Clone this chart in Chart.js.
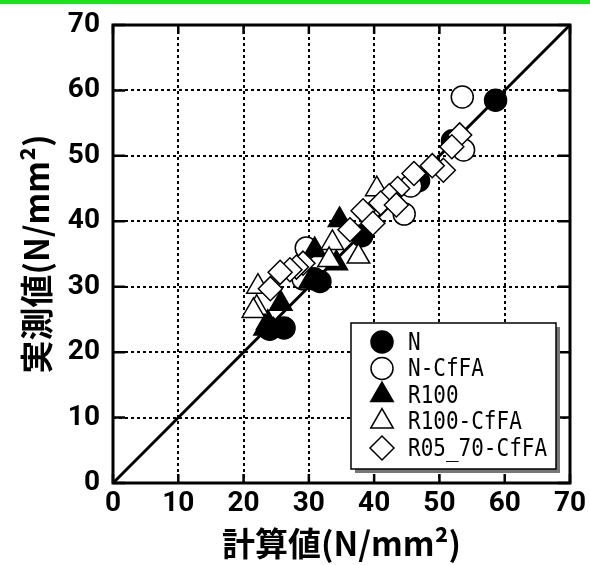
<!DOCTYPE html>
<html lang="ja">
<head>
<meta charset="utf-8">
<script src="https://cdn.jsdelivr.net/npm/chart.js@4.4.1/dist/chart.umd.min.js"></script>
<style>
  body { margin: 0; background: #fff; }
  #caja { position: relative; width: 590px; height: 565px; }
  #linea { position: absolute; left: 0; top: 0; width: 590px; height: 4px; background: #1fe01f; }
</style>
</head>
<body>
<div id="caja">
  <canvas id="grafica" width="590" height="565"></canvas>
  <div id="linea"></div>
</div>
<script>
//DATOS
const nombres = ['N', 'N-CfFA', 'R100', 'R100-CfFA', 'R05_70-CfFA'];
const xN = [58.6, 52.0, 46.8, 38.1, 31.7, 30.8, 26.2, 24.0];
const yN = [58.5, 52.3, 46.2, 37.8, 30.8, 31.2, 23.7, 23.5];
const xNCf = [53.5, 53.7, 44.6, 45.6, 29.6, 29.1];
const yNCf = [59.0, 50.9, 41.1, 45.4, 35.9, 31.2];
const xR100 = [34.7, 30.9, 34.2, 25.7, 23.3, 24.6, 30.2, 23.7];
const yR100 = [40.2, 35.6, 33.6, 27.4, 23.6, 23.3, 30.8, 24.5];
const xR100Cf = [40.4, 37.6, 33.6, 33.1, 22.2, 22.0, 21.5];
const yR100Cf = [44.9, 34.6, 36.7, 34.1, 30.0, 26.8, 26.3];
const xR05 = [53.1, 51.9, 50.6, 48.9, 46.1, 43.6, 42.3, 41.0, 43.4, 38.3, 39.8, 36.3, 29.1, 28.1, 27.1, 25.6, 24.1];
const yR05 = [53.2, 51.4, 47.8, 48.5, 47.3, 45.0, 43.9, 42.8, 42.5, 41.6, 39.7, 38.7, 33.6, 33.0, 32.6, 32.2, 29.7];
const lineaX = [0, 70];
const lineaY = [0, 70];
const marcas = [0, 10, 20, 30, 40, 50, 60, 70];
const tituloX = '計算値(N/mm²)';
const tituloY = '実測値(N/mm²)';
//DATOS

const puntos = (xs, ys) => xs.map((v, i) => ({x: v, y: ys[i]}));

function serie(i, xs, ys, estilo, relleno, radio, orden) {
    return {
        label: nombres[i],
        data: puntos(xs, ys),
        pointStyle: estilo,
        pointRadius: radio,
        pointBackgroundColor: relleno,
        pointBorderColor: '#000',
        pointBorderWidth: 1.5,
        showLine: false,
        order: orden
    };
}

const datasets = [
    serie(4, xR05, yR05, 'rectRot', '#fff', 12, 1),
    serie(3, xR100Cf, yR100Cf, 'triangle', '#fff', 13, 2),
    serie(2, xR100, yR100, 'triangle', '#000', 13, 3),
    serie(1, xNCf, yNCf, 'circle', '#fff', 11, 4),
    serie(0, xN, yN, 'circle', '#000', 11, 5),
    {
        label: 'linea',
        data: puntos(lineaX, lineaY),
        showLine: true,
        borderColor: '#000',
        borderWidth: 3,
        pointRadius: 0,
        order: 6
    }
];

//PLUGINS
const marco = { //marco del grafico y marcas hacia adentro
    id: 'marco',
    beforeDatasetsDraw(chart) {
        const {ctx, chartArea: a, scales: {x, y}} = chart;
        ctx.save();
        ctx.strokeStyle = '#000';
        ctx.lineWidth = 2.5;
        marcas.forEach(v => {
            const px = x.getPixelForValue(v);
            const py = y.getPixelForValue(v);
            ctx.beginPath();
            ctx.moveTo(px, a.bottom); ctx.lineTo(px, a.bottom - 9);
            ctx.moveTo(px, a.top); ctx.lineTo(px, a.top + 9);
            ctx.moveTo(a.left, py); ctx.lineTo(a.left + 12, py);
            ctx.moveTo(a.right, py); ctx.lineTo(a.right - 12, py);
            ctx.stroke();
        });
        ctx.lineWidth = 3;
        ctx.strokeRect(a.left, a.top, a.right - a.left, a.bottom - a.top);
        ctx.restore();
    }
};

function dibujaMarca(ctx, ds, cx, cy) {
    const r = ds.pointRadius;
    ctx.beginPath();
    if (ds.pointStyle === 'circle') {
        ctx.arc(cx, cy, r, 0, Math.PI * 2);
    } else if (ds.pointStyle === 'triangle') {
        for (let k = 0; k < 3; k++) {
            const ang = k * Math.PI * 2 / 3;
            const px = cx + Math.sin(ang) * r, py = cy - Math.cos(ang) * r;
            k ? ctx.lineTo(px, py) : ctx.moveTo(px, py);
        }
        ctx.closePath();
    } else {
        ctx.moveTo(cx, cy - r); ctx.lineTo(cx + r, cy); ctx.lineTo(cx, cy + r); ctx.lineTo(cx - r, cy);
        ctx.closePath();
    }
    ctx.fillStyle = ds.pointBackgroundColor;
    ctx.fill();
    ctx.lineWidth = ds.pointBorderWidth;
    ctx.strokeStyle = '#000';
    ctx.stroke();
}

const leyenda = { //leyenda dentro del area
    id: 'leyenda',
    afterDraw(chart) {
        const {ctx, chartArea: a} = chart;
        const w = 205, h = 146;
        const x0 = a.right - 219, y0 = a.bottom - 160;
        ctx.save();
        ctx.fillStyle = '#777';
        ctx.fillRect(x0 + 4, y0 + 4, w, h);
        ctx.fillStyle = '#fff';
        ctx.fillRect(x0, y0, w, h);
        ctx.lineWidth = 1.5;
        ctx.strokeStyle = '#000';
        ctx.strokeRect(x0, y0, w, h);
        const lista = nombres.map(n => chart.data.datasets.find(d => d.label === n));
        ctx.font = '21px "DejaVu Sans Mono", monospace';
        ctx.textBaseline = 'middle';
        lista.forEach((ds, i) => {
            const cy = y0 + 19 + i * 26.5;
            dibujaMarca(ctx, ds, x0 + 31, cy);
            ctx.save();
            ctx.translate(x0 + 57, cy + 1);
            ctx.scale(1, 1.22);
            ctx.fillStyle = '#000';
            ctx.fillText(ds.label, 0, 0);
            ctx.restore();
        });
        ctx.restore();
    }
};
//PLUGINS

//GRAFICO
const fuenteTicks = {family: "Roboto, sans-serif", weight: 'bold', size: 28};
const fuenteTitulo = {family: "'Noto Sans CJK JP', sans-serif", weight: 'bold', size: 33, lineHeight: 1};

new Chart(document.getElementById('grafica'), {
    type: 'scatter',
    data: {datasets: datasets},
    options: {
        responsive: false,
        animation: false,
        layout: {padding: {top: 25, right: 20, left: 0, bottom: 0}},
        plugins: {legend: {display: false}, tooltip: {enabled: false}},
        scales: {
            x: {
                min: 0, max: 70,
                afterBuildTicks: s => { s.ticks = marcas.map(v => ({value: v})); },
                afterFit: s => { s.height = 82; s.paddingLeft = 0; s.paddingRight = 0; },
                ticks: {color: '#000', font: fuenteTicks, padding: 4, maxRotation: 0},
                grid: {color: '#000', lineWidth: 2, drawTicks: false},
                border: {display: false, dash: [3, 3]},
                title: {display: true, text: tituloX, color: '#000', font: fuenteTitulo, padding: {top: 0, bottom: 5}}
            },
            y: {
                min: 0, max: 70,
                afterBuildTicks: s => { s.ticks = marcas.map(v => ({value: v})); },
                afterFit: s => { s.width = 113; s.paddingTop = 0; s.paddingBottom = 0; },
                ticks: {color: '#000', font: fuenteTicks, padding: 13},
                grid: {color: '#000', lineWidth: 2, drawTicks: false},
                border: {display: false, dash: [3, 3]},
                title: {display: true, text: tituloY, color: '#000', font: fuenteTitulo, padding: {top: 20, bottom: 0}}
            }
        }
    },
    plugins: [marco, leyenda]
});
//GRAFICO
</script>
</body>
</html>
